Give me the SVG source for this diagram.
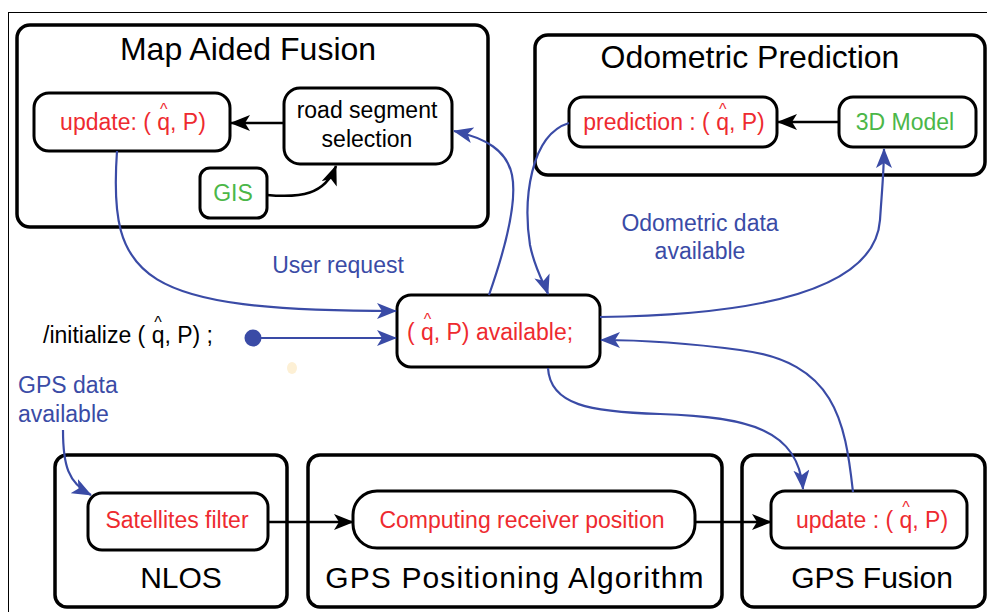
<svg xmlns="http://www.w3.org/2000/svg" width="987" height="612" viewBox="0 0 987 612">
<style>
text{font-family:"Liberation Sans",Arial,Helvetica,sans-serif}
.box{fill:#fff;stroke:#000;stroke-width:3.5}
.inner{fill:#fff;stroke:#000;stroke-width:3}
.title{font-size:32px;fill:#000}
.sub{font-size:30px;fill:#000}
.lbl{font-size:23px}
.red{fill:#ee2a2f}
.green{fill:#4bb748}
.blue{fill:#3a4ba6}
.black{fill:#000}
.hat{font-size:16px}
.conn{fill:none;stroke:#3a4ba6;stroke-width:2.2}
.blk{fill:none;stroke:#000;stroke-width:2.5}
</style>
<defs>
<marker id="ab" viewBox="0 0 20 16" refX="19" refY="8" markerWidth="20" markerHeight="16" markerUnits="userSpaceOnUse" orient="auto">
<path d="M0,0 L20,8 L0,16 L5,8 z" fill="#000"/>
</marker>
<marker id="au" viewBox="0 0 20 16" refX="19" refY="8" markerWidth="20" markerHeight="16" markerUnits="userSpaceOnUse" orient="auto">
<path d="M0,0 L20,8 L0,16 L5,8 z" fill="#3a4ba6"/>
</marker>
</defs>
<rect x="0" y="0" width="987" height="612" fill="#fff"/>
<rect x="8.5" y="12.5" width="1000" height="640" fill="none" stroke="#000" stroke-width="1"/>

<g id="map-aided-fusion">
<rect class="box" x="17" y="25" width="471" height="202" rx="13"/>
<text class="title" x="248" y="60" text-anchor="middle">Map Aided Fusion</text>
</g>
<g id="update-map">
<rect class="inner" x="34" y="93" width="196" height="58" rx="15"/>
<text class="lbl red" x="133" y="130" text-anchor="middle">update: ( q<tspan class="hat" dx="-10.1" dy="-15">^</tspan><tspan dx="2.6" dy="15">, P)</tspan></text>
</g>
<g id="road-segment">
<rect class="inner" x="284" y="88" width="168" height="76" rx="16"/>
<text class="lbl black" x="367" y="118" text-anchor="middle">road segment</text>
<text class="lbl black" x="367" y="147" text-anchor="middle">selection</text>
</g>
<g id="gis">
<rect class="inner" x="200" y="168" width="67" height="50" rx="10"/>
<text class="lbl green" x="233" y="201" text-anchor="middle">GIS</text>
</g>

<g id="odometric-prediction">
<rect class="box" x="535" y="35" width="450" height="140" rx="13"/>
<text class="title" x="750" y="68" text-anchor="middle">Odometric Prediction</text>
</g>
<g id="prediction">
<rect class="inner" x="569" y="97" width="208" height="50" rx="14"/>
<text class="lbl red" x="674" y="130" text-anchor="middle">prediction : ( q<tspan class="hat" dx="-10.1" dy="-15">^</tspan><tspan dx="2.6" dy="15">, P)</tspan></text>
</g>
<g id="model-3d">
<rect class="inner" x="839" y="97" width="137" height="50" rx="14"/>
<text class="lbl green" x="905" y="130" text-anchor="middle">3D Model</text>
</g>

<g id="available">
<rect class="inner" x="397" y="295" width="203" height="72" rx="14"/>
<text class="lbl red" x="490" y="340" text-anchor="middle">( q<tspan class="hat" dx="-10.1" dy="-15">^</tspan><tspan dx="2.6" dy="15">, P)  available;</tspan></text>
</g>

<g id="init">
<text class="lbl black" x="43" y="343">/initialize ( q<tspan class="hat" dx="-10.1" dy="-15">^</tspan><tspan dx="2.6" dy="15">, P) ;</tspan></text>
<circle cx="253" cy="338" r="8.5" fill="#3a4ba6"/>
</g>

<g id="nlos">
<rect class="box" x="55" y="455" width="232" height="152" rx="12"/>
<text class="sub" x="181" y="588" text-anchor="middle">NLOS</text>
</g>
<g id="satellites-filter">
<rect class="inner" x="88" y="493" width="180" height="57" rx="14"/>
<text class="lbl red" x="177" y="528" text-anchor="middle">Satellites filter</text>
</g>

<g id="gps-positioning">
<rect class="box" x="308" y="455" width="414" height="152" rx="12"/>
<text class="sub" x="515" y="588" text-anchor="middle" letter-spacing="1.1">GPS Positioning Algorithm</text>
</g>
<g id="computing">
<rect class="inner" x="353" y="491" width="342" height="57" rx="24"/>
<text class="lbl red" x="522" y="528" text-anchor="middle">Computing receiver position</text>
</g>

<g id="gps-fusion">
<rect class="box" x="742" y="455" width="243" height="152" rx="12"/>
<text class="sub" x="872" y="588" text-anchor="middle">GPS Fusion</text>
</g>
<g id="update-gps">
<rect class="inner" x="771" y="491" width="196" height="57" rx="14"/>
<text class="lbl red" x="872" y="528" text-anchor="middle">update : ( q<tspan class="hat" dx="-10.1" dy="-15">^</tspan><tspan dx="2.6" dy="15">, P)</tspan></text>
</g>

<g id="labels">
<text class="lbl blue" x="338" y="273" text-anchor="middle">User request</text>
<text class="lbl blue" x="700" y="231" text-anchor="middle">Odometric data</text>
<text class="lbl blue" x="700" y="259" text-anchor="middle">available</text>
<text class="lbl blue" x="18" y="393">GPS data</text>
<text class="lbl blue" x="18" y="422">available</text>
</g>

<ellipse cx="292" cy="368" rx="5" ry="6" fill="#fdf0d5"/>

<g id="connectors">
<path class="blk" d="M284,123 L231,123" marker-end="url(#ab)"/>
<path class="blk" d="M267,195 C300,198 325,195 336,166" marker-end="url(#ab)"/>
<path class="blk" d="M839,122 L778,122" marker-end="url(#ab)"/>
<path class="blk" d="M268,522 L353,522" marker-end="url(#ab)"/>
<path class="blk" d="M695,522 L771,522" marker-end="url(#ab)"/>

<path class="conn" d="M117,151 C108,280 140,311 396,311" marker-end="url(#au)"/>
<path class="conn" d="M253,338 L396,338" marker-end="url(#au)"/>
<path class="conn" d="M489,295 C503,255 518,205 512,175 C507,150 485,138 454,131" marker-end="url(#au)"/>
<path class="conn" d="M569,123 C530,135 523,200 530,245 C535,270 545,285 548,294" marker-end="url(#au)"/>
<path class="conn" d="M600,317 C760,315 875,290 880,220 C882,190 884,170 884,149" marker-end="url(#au)"/>
<path class="conn" d="M548,368 C550,405 590,412 660,414 C750,417 798,430 803,489" marker-end="url(#au)"/>
<path class="conn" d="M853,492 C845,420 835,362 740,350 C680,342 630,340 601,340" marker-end="url(#au)"/>
<path class="conn" d="M63,430 C63,465 68,483 91,495" marker-end="url(#au)"/>
</g>
</svg>
